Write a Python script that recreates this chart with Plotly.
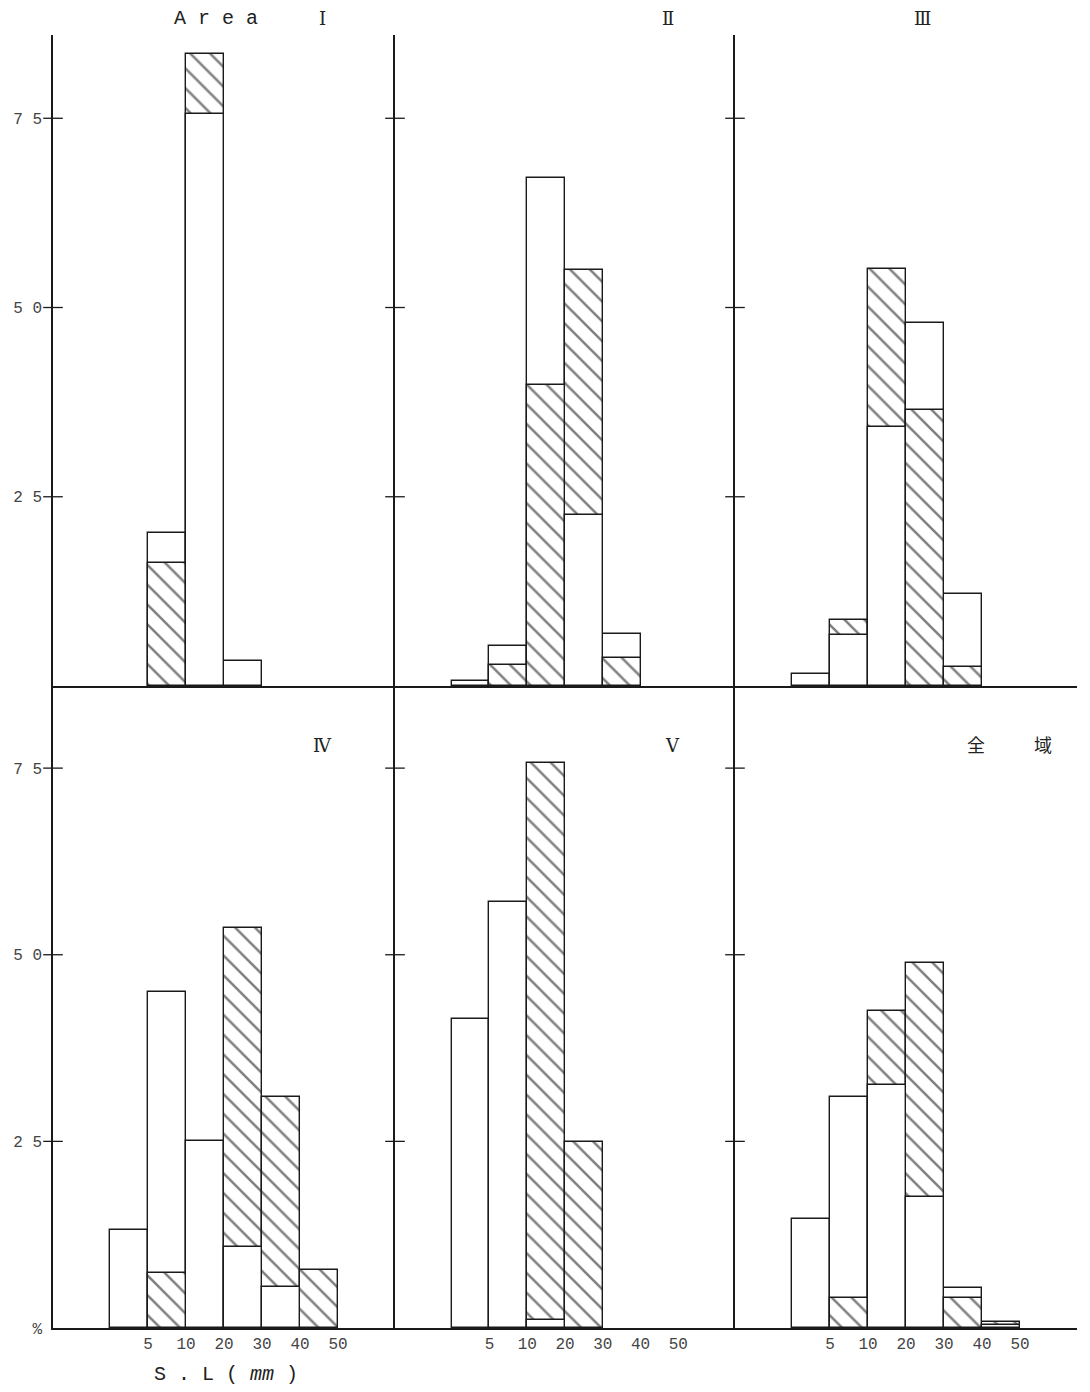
import plotly.graph_objects as go

# ---------------- data ----------------
bins = ["<5", "5-10", "10-20", "20-30", "30-40", "40-50"]
bin_idx = [0, 1, 2, 3, 4, 5]
edge_pos = [0.5, 1.5, 2.5, 3.5, 4.5, 5.5]
edge_labels = ["5", "10", "20", "30", "40", "50"]
y_tickvals = [25, 50, 75]
y_ticktext = ["2 5", "5 0", "7 5"]

open_I = [0, 20.2, 75.6, 3.3, 0, 0]
hatch_I = [0, 16.2, 83.5, 0, 0, 0]
open_II = [0.7, 5.3, 67.1, 22.6, 6.9, 0]
hatch_II = [0, 2.8, 39.7, 54.9, 3.7, 0]
open_III = [1.6, 6.7, 34.2, 47.9, 12.1, 0]
hatch_III = [0, 8.7, 55.1, 36.5, 2.5, 0]
open_IV = [13.1, 45.0, 25.0, 10.8, 5.5, 0]
hatch_IV = [0, 7.4, 0, 53.6, 30.9, 7.8]
open_V = [41.4, 57.1, 1.1, 0, 0, 0]
hatch_V = [0, 0, 75.7, 24.9, 0, 0]
open_all = [14.6, 30.9, 32.6, 17.5, 5.4, 0.4]
hatch_all = [0, 4.0, 42.5, 48.9, 4.0, 0.8]

panels = [
    (open_I, hatch_I), (open_II, hatch_II), (open_III, hatch_III),
    (open_IV, hatch_IV), (open_V, hatch_V), (open_all, hatch_all),
]

# ---------------- figure ----------------
OFF = 8  # default page margin around the plot div
W, H = 1090 - OFF, 1392 - OFF
INK = "#1a1a1a"
fig = go.Figure()

col_px = [(53, 395), (395, 735), (735, 1077)]
row_px = [(35, 686), (686, 1328)]


def px_x(p):
    return (p - OFF) / W


def px_y(p):
    return 1 - (p - OFF) / H


for k, (opn, hat) in enumerate(panels):
    ax = "" if k == 0 else str(k + 1)
    back_y, back_shape, front_y, front_shape = [], [], [], []
    for o, h in zip(opn, hat):
        if h > o:
            back_y.append(h)
            back_shape.append("\\")
            front_y.append(o if o > 0 else None)
            front_shape.append("")
        else:
            back_y.append(o if o > 0 else None)
            back_shape.append("")
            front_y.append(h if h > 0 else None)
            front_shape.append("\\")
    for yy, shp in ((back_y, back_shape), (front_y, front_shape)):
        fig.add_trace(go.Bar(
            x=bin_idx, y=yy, width=1,
            xaxis="x" + ax, yaxis="y" + ax,
            marker=dict(
                color="white",
                line=dict(color=INK, width=1.4),
                pattern=dict(shape=shp, size=14, solidity=0.18,
                             fgcolor="#000", bgcolor="white", fillmode="overlay"),
            ),
            showlegend=False, hoverinfo="skip",
        ))
    # crossing tick marks on the vertical axis
    fig.add_trace(go.Scatter(
        x=[-2] * len(y_tickvals), y=y_tickvals, mode="markers",
        xaxis="x" + ax, yaxis="y" + ax, cliponaxis=False,
        marker=dict(symbol="line-ew", size=14, line=dict(color=INK, width=1.3)),
        showlegend=False, hoverinfo="skip",
    ))

layout = dict(
    width=W, height=H,
    margin=dict(l=0, r=0, t=0, b=0, autoexpand=False),
    paper_bgcolor="white", plot_bgcolor="rgba(0,0,0,0)",
    barmode="overlay", bargap=0,
    showlegend=False,
)

mono = "Liberation Mono, DejaVu Sans Mono, monospace"
for k in range(6):
    r, c = divmod(k, 3)
    ax = "" if k == 0 else str(k + 1)
    x0, x1 = col_px[c]
    y0, y1 = row_px[r]
    xa = dict(
        domain=[px_x(x0), px_x(x1)], range=[-2, 7],
        anchor="y" + ax, showgrid=False, zeroline=False,
        showline=True, linecolor=INK, linewidth=1.5,
        ticks="", fixedrange=True, automargin=False,
    )
    if r == 1:
        xa.update(tickmode="array", tickvals=edge_pos, ticktext=edge_labels,
                  tickfont=dict(family=mono, size=16, color="#444"))
    else:
        xa.update(showticklabels=False)
    ya = dict(
        domain=[px_y(y1), px_y(y0)], range=[0, 86],
        anchor="x" + ax, showgrid=False, zeroline=False,
        showline=True, linecolor=INK, linewidth=1.5,
        ticks="", fixedrange=True, automargin=False,
    )
    if c == 0:
        tv = list(y_tickvals)
        tt = list(y_ticktext)
        if r == 1:
            tv = [0] + tv
            tt = ["%"] + tt
        ya.update(tickmode="array", tickvals=tv, ticktext=tt,
                  ticklabelstandoff=6,
                  tickfont=dict(family=mono, size=16, color="#444"))
    else:
        ya.update(showticklabels=False)
    layout["xaxis" + ax] = xa
    layout["yaxis" + ax] = ya

fig.update_layout(**layout)

serif = "DejaVu Serif, Liberation Serif, Noto Sans CJK JP, serif"
titles = [
    ("A r e a", 216, 18, mono, 20),
    ("Ⅰ", 322, 18, serif, 18),
    ("Ⅱ", 668, 18, serif, 18),
    ("Ⅲ", 922, 18, serif, 18),
    ("Ⅳ", 322, 745, serif, 18),
    ("Ⅴ", 672, 745, serif, 18),
    ("全", 976, 744, "Noto Sans CJK JP", 18),
    ("域", 1043, 744, "Noto Sans CJK JP", 18),
    ("S . L ( <i>mm</i> )", 226, 1374, mono, 20),
]
for txt, x, y, fam, sz in titles:
    fig.add_annotation(
        text=txt, x=px_x(x), y=px_y(y), xref="paper", yref="paper",
        xanchor="center", yanchor="middle", showarrow=False,
        font=dict(family=fam, size=sz, color="#222"),
    )

fig.write_html("out.html")
